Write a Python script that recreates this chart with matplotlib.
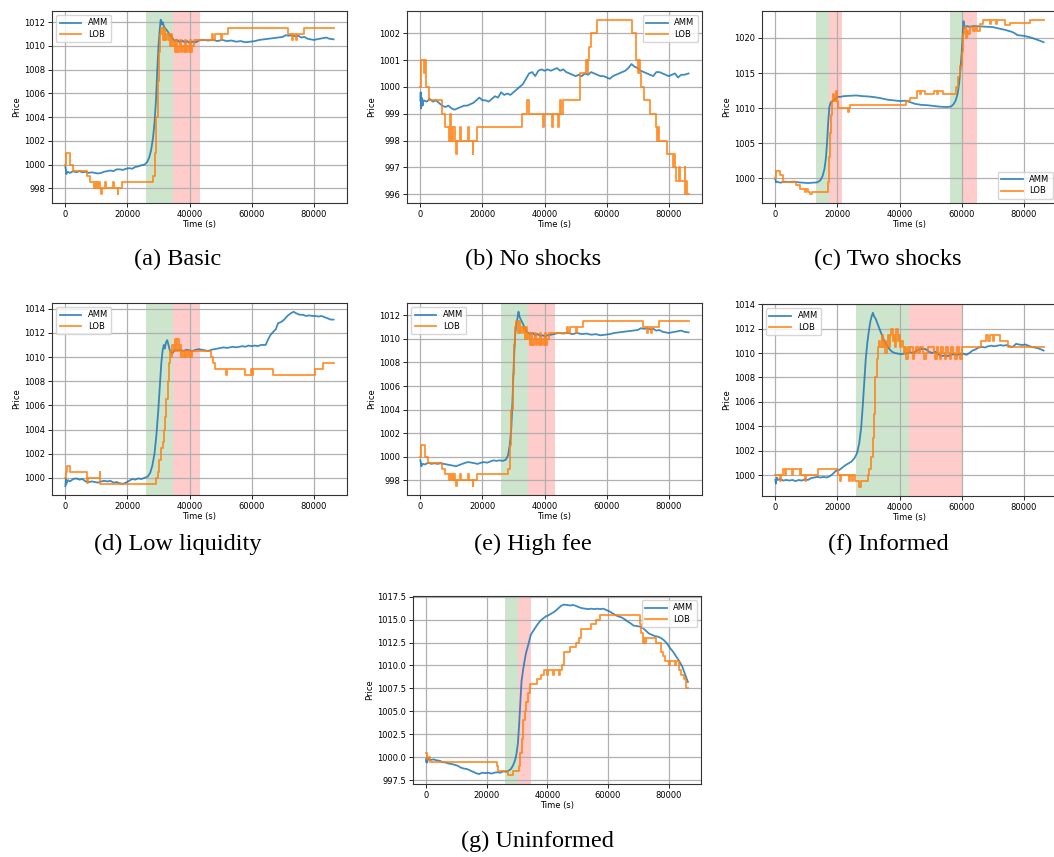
import matplotlib
matplotlib.use("Agg")
import matplotlib.pyplot as plt
from matplotlib.ticker import MultipleLocator

# ---- price paths: (time in s, price) ----
a_amm = [(0, 999.8), (150, 999.6), (300, 999.2), (700, 999.4), (1500, 999.3), (2500, 999.45), (3500, 999.35),
         (4500, 999.45), (5500, 999.35), (6500, 999.4), (7500, 999.3), (8500, 999.35), (9500, 999.3),
         (10500, 999.25), (11500, 999.3), (12500, 999.4), (13500, 999.45), (14500, 999.5), (15500, 999.45),
         (16500, 999.6), (17500, 999.6), (18500, 999.55), (19500, 999.65), (20500, 999.7), (21500, 999.65),
         (22500, 999.8), (23500, 999.85), (24500, 999.95), (25500, 1000.0), (26300, 1000.2), (27000, 1000.6),
         (27600, 1001.2), (28200, 1002.2), (28700, 1003.5), (29200, 1005.5), (29600, 1008.0), (30000, 1010.0),
         (30400, 1011.4), (30700, 1012.2), (31000, 1011.8), (31300, 1012.0), (31800, 1011.6), (32400, 1011.4),
         (33000, 1011.2), (33600, 1010.9), (34200, 1010.8), (34800, 1010.5), (35400, 1010.4), (36000, 1010.5),
         (36800, 1010.3), (37600, 1010.45), (38400, 1010.3), (39200, 1010.4), (40000, 1010.25), (41000, 1010.35),
         (42000, 1010.3), (43000, 1010.45), (44500, 1010.5), (46000, 1010.45), (47500, 1010.5), (49000, 1010.4),
         (50500, 1010.5), (52000, 1010.4), (53500, 1010.45), (55000, 1010.35), (56500, 1010.4), (58000, 1010.3),
         (59500, 1010.35), (61000, 1010.4), (62500, 1010.5), (64000, 1010.55), (65500, 1010.6), (67000, 1010.65),
         (68500, 1010.7), (70000, 1010.75), (71000, 1010.9), (72000, 1010.85), (73000, 1010.9), (74000, 1010.8),
         (75000, 1010.85), (76000, 1010.7), (77000, 1010.75), (78000, 1010.6), (79000, 1010.55), (80000, 1010.5),
         (81000, 1010.55), (82000, 1010.6), (83000, 1010.65), (84000, 1010.7), (85000, 1010.6), (86400, 1010.55)]
a_lob = [(0, 1000.0), (100, 1001.0), (1600, 1000.0), (2300, 999.5), (6800, 999.0), (8000, 998.5), (9200, 998.0),
         (9500, 998.5), (9800, 998.0), (10100, 998.5), (10400, 998.0), (10700, 998.5), (11100, 998.0),
         (11500, 997.5), (11800, 998.0), (12800, 998.5), (13100, 998.0), (15200, 998.5), (15500, 998.0),
         (16800, 997.5), (17100, 998.0), (18300, 998.5), (28300, 999.0), (28800, 1001.0), (29300, 1004.0),
         (29700, 1007.0), (30100, 1009.5), (30500, 1011.0), (30900, 1011.5), (31300, 1010.5), (31700, 1011.5),
         (32100, 1010.5), (32500, 1011.0), (32900, 1010.5), (33300, 1011.0), (33700, 1010.0), (34100, 1011.0),
         (34500, 1010.0), (34900, 1010.5), (35300, 1009.5), (35700, 1010.5), (36100, 1009.5), (36500, 1010.0),
         (36900, 1010.5), (37300, 1009.5), (37700, 1010.0), (38100, 1009.5), (38500, 1010.5), (38900, 1009.5),
         (39300, 1010.0), (39700, 1009.5), (40100, 1010.5), (40500, 1009.5), (40900, 1010.0), (41300, 1010.5),
         (47300, 1011.0), (47700, 1010.5), (48100, 1011.0), (50200, 1010.5), (50500, 1011.0), (52300, 1011.5),
         (71600, 1011.0), (72900, 1010.5), (73200, 1011.0), (74300, 1010.5), (74600, 1011.0), (77000, 1011.5),
         (86400, 1011.5)]

b_amm = [(0, 999.5), (100, 999.8), (200, 999.2), (400, 999.6), (700, 999.3), (1000, 999.5), (2000, 999.45),
         (3000, 999.55), (4000, 999.45), (5000, 999.5), (6000, 999.4), (7000, 999.3), (8000, 999.25), (9000, 999.3),
         (10000, 999.2), (11000, 999.15), (12000, 999.2), (13000, 999.25), (14000, 999.3), (15000, 999.3),
         (16000, 999.35), (17000, 999.4), (18000, 999.5), (19000, 999.6), (20000, 999.5), (21000, 999.5),
         (22000, 999.45), (23000, 999.55), (24000, 999.65), (25000, 999.6), (26000, 999.8), (27000, 999.7),
         (28000, 999.75), (29000, 999.7), (30000, 999.8), (31000, 999.9), (32000, 1000.0), (33000, 1000.1),
         (34000, 1000.3), (35000, 1000.5), (36000, 1000.55), (37000, 1000.4), (38000, 1000.6), (39000, 1000.65),
         (40000, 1000.6), (41000, 1000.65), (42000, 1000.6), (43000, 1000.65), (44000, 1000.7), (45000, 1000.6),
         (46000, 1000.65), (47000, 1000.55), (48000, 1000.5), (49000, 1000.45), (50000, 1000.4), (51000, 1000.45),
         (52000, 1000.4), (53000, 1000.5), (54000, 1000.45), (55000, 1000.55), (56000, 1000.5), (57000, 1000.45),
         (58000, 1000.4), (59000, 1000.4), (60000, 1000.35), (61000, 1000.3), (62000, 1000.4), (63000, 1000.45),
         (64000, 1000.5), (65000, 1000.55), (66000, 1000.6), (67000, 1000.7), (68000, 1000.85), (69000, 1000.75),
         (70000, 1000.7), (71000, 1000.6), (72000, 1000.55), (73000, 1000.5), (74000, 1000.45), (75000, 1000.4),
         (76000, 1000.55), (77000, 1000.55), (78000, 1000.5), (79000, 1000.45), (80000, 1000.4), (81000, 1000.45),
         (82000, 1000.5), (83000, 1000.35), (84000, 1000.45), (85000, 1000.45), (86400, 1000.5)]
b_lob = [(0, 1000.0), (100, 1001.0), (1200, 1000.5), (1400, 1001.0), (1700, 1000.0), (2900, 999.5), (6900, 999.0),
         (8000, 998.5), (9100, 998.0), (9400, 999.0), (9700, 998.0), (10000, 998.5), (10300, 998.0), (10600, 998.5),
         (11000, 998.0), (11400, 997.5), (11700, 998.0), (12800, 998.5), (13100, 998.0), (15200, 998.5),
         (15500, 998.0), (16800, 997.5), (17100, 998.0), (18300, 998.5), (32600, 999.0), (34400, 999.5),
         (34900, 999.0), (39500, 998.5), (39800, 999.0), (42400, 998.5), (42700, 999.0), (44400, 998.5),
         (44700, 999.0), (44900, 999.5), (45300, 999.0), (46000, 999.5), (51500, 1000.5), (53400, 1001.0),
         (53600, 1000.5), (53900, 1001.0), (54200, 1001.5), (55000, 1002.0), (57000, 1002.5), (68300, 1002.0),
         (69300, 1001.5), (69600, 1001.0), (70000, 1000.5), (70300, 1001.0), (70600, 1000.5), (71100, 1000.0),
         (72000, 999.5), (74000, 999.0), (75800, 998.5), (76300, 998.0), (76600, 998.5), (76900, 998.0),
         (79300, 997.5), (81300, 997.0), (81600, 997.5), (81900, 997.0), (82300, 996.5), (83300, 997.0),
         (83600, 996.5), (85100, 997.0), (85400, 996.0), (85700, 996.5), (86000, 996.0), (86400, 996.0)]

c_amm = [(0, 999.8), (200, 999.4), (600, 999.5), (1500, 999.35), (3000, 999.5), (4500, 999.45), (6000, 999.5),
         (7500, 999.4), (9000, 999.35), (10500, 999.3), (12000, 999.35), (13500, 999.4), (14500, 999.7),
         (15200, 1000.3), (15800, 1001.3), (16300, 1003.0), (16700, 1005.5), (17000, 1008.0), (17400, 1010.2),
         (17800, 1010.8), (18500, 1011.0), (19300, 1011.3), (20000, 1011.6), (21000, 1011.6), (22000, 1011.7),
         (24000, 1011.75), (26000, 1011.8), (28000, 1011.7), (30000, 1011.65), (32000, 1011.55), (34000, 1011.4),
         (36000, 1011.2), (38000, 1011.1), (40000, 1011.0), (42000, 1011.05), (43000, 1010.9), (45000, 1010.6),
         (47000, 1010.45), (49000, 1010.4), (51000, 1010.3), (53000, 1010.2), (55000, 1010.15), (56500, 1010.2),
         (57300, 1010.5), (58000, 1011.0), (58700, 1012.0), (59200, 1013.5), (59700, 1016.0), (60100, 1018.5),
         (60400, 1021.0), (60600, 1022.4), (60900, 1021.4), (61500, 1021.7), (62500, 1021.6), (64000, 1021.7),
         (66000, 1021.65), (68000, 1021.6), (70000, 1021.55), (72000, 1021.35), (74000, 1021.15), (76000, 1020.9),
         (77000, 1020.7), (78000, 1020.4), (80000, 1020.3), (82000, 1020.1), (84000, 1019.8), (86400, 1019.4)]
c_lob = [(0, 1000.0), (100, 1001.0), (1500, 1000.5), (2300, 999.5), (6500, 999.0), (8000, 998.5), (9500, 998.0),
         (10000, 998.5), (10500, 998.0), (11300, 997.7), (11700, 998.0), (16800, 999.5), (17200, 1003.0),
         (17600, 1006.5), (18000, 1009.0), (18300, 1011.0), (18700, 1012.0), (19000, 1011.0), (19400, 1012.5),
         (19700, 1011.0), (20100, 1010.0), (23400, 1009.5), (23700, 1010.0), (24000, 1010.5), (42000, 1011.0),
         (43500, 1011.5), (45500, 1012.5), (46500, 1012.0), (47000, 1012.5), (48200, 1012.0), (51000, 1012.5),
         (52000, 1012.0), (52500, 1012.5), (54000, 1012.0), (58300, 1013.0), (58900, 1014.5), (59500, 1016.0),
         (60000, 1018.0), (60400, 1020.5), (60800, 1021.5), (61300, 1020.0), (61700, 1021.0), (62200, 1020.5),
         (62800, 1021.5), (63500, 1021.0), (64300, 1021.5), (65000, 1021.0), (66000, 1022.0), (67000, 1022.5),
         (69000, 1022.0), (69500, 1022.5), (71000, 1022.0), (71500, 1022.5), (74000, 1021.8), (75500, 1022.2),
         (82000, 1022.6), (86400, 1022.6)]

d_amm = [(0, 999.3), (150, 999.9), (300, 999.5), (800, 999.8), (1500, 999.7), (2500, 999.9), (3500, 999.95),
         (4500, 999.85), (5500, 999.9), (6500, 999.7), (7500, 999.65), (8500, 999.7), (9500, 999.65),
         (10500, 999.6), (11500, 999.7), (12500, 999.75), (13500, 999.7), (14500, 999.75), (15500, 999.6),
         (16500, 999.65), (17500, 999.55), (18500, 999.5), (19500, 999.6), (20500, 999.75), (21500, 999.9),
         (22500, 999.85), (23500, 999.95), (24500, 999.9), (25500, 1000.0), (26500, 1000.1), (27300, 1000.4),
         (28000, 1001.0), (28700, 1002.0), (29300, 1003.5), (29900, 1005.5), (30400, 1007.5), (30900, 1009.5),
         (31300, 1010.5), (31700, 1011.0), (32000, 1010.7), (32400, 1011.2), (32800, 1011.4), (33200, 1011.0),
         (33600, 1010.6), (34000, 1010.4), (34500, 1010.3), (35200, 1010.6), (36000, 1010.55), (37000, 1010.6),
         (38000, 1010.5), (39000, 1010.6), (40000, 1010.55), (41000, 1010.5), (42000, 1010.6), (43000, 1010.65),
         (44000, 1010.6), (45000, 1010.55), (46000, 1010.5), (47000, 1010.6), (48000, 1010.65), (49000, 1010.7),
         (50000, 1010.75), (51000, 1010.8), (52000, 1010.75), (53000, 1010.8), (54000, 1010.85), (55000, 1010.8),
         (56000, 1010.85), (57000, 1010.9), (58000, 1010.85), (59000, 1010.95), (60000, 1010.9), (61000, 1010.95),
         (62000, 1010.9), (63000, 1011.0), (64500, 1011.0), (65200, 1011.4), (66000, 1011.8), (67000, 1012.1),
         (67800, 1012.3), (68500, 1012.8), (69500, 1012.9), (70500, 1013.1), (71500, 1013.4), (72500, 1013.6),
         (73500, 1013.75), (74500, 1013.6), (75500, 1013.5), (76500, 1013.5), (77500, 1013.4), (78500, 1013.45),
         (79500, 1013.4), (80500, 1013.4), (81500, 1013.35), (82500, 1013.4), (83500, 1013.3), (84500, 1013.2),
         (85500, 1013.1), (86400, 1013.1)]
d_lob = [(0, 1000.0), (200, 1000.5), (500, 1001.0), (1500, 1000.5), (7000, 999.6), (7300, 1000.0), (11000, 1000.5),
         (11200, 999.5), (29300, 1000.0), (29800, 1000.5), (30300, 1001.5), (30800, 1002.5), (31300, 1003.0),
         (31700, 1004.0), (32100, 1005.0), (32500, 1006.5), (32900, 1008.0), (33300, 1009.5), (33700, 1010.5),
         (34100, 1010.0), (34500, 1011.0), (34900, 1010.5), (35300, 1011.5), (35700, 1010.5), (36100, 1011.5),
         (36500, 1010.5), (36900, 1011.0), (37300, 1010.0), (37700, 1010.5), (38100, 1010.0), (38500, 1010.5),
         (38900, 1010.0), (39300, 1010.5), (39700, 1010.0), (40100, 1010.5), (40500, 1010.0), (40900, 1010.5),
         (47000, 1010.0), (47700, 1009.5), (48300, 1009.0), (51800, 1008.5), (52200, 1009.0), (57800, 1008.5),
         (59700, 1009.0), (60000, 1008.5), (60300, 1009.0), (67000, 1008.5), (80500, 1009.0), (83000, 1009.5),
         (86400, 1009.5)]

e_amm = [(0, 999.7), (150, 999.5), (300, 999.2), (700, 999.4), (1500, 999.35), (2500, 999.5), (3500, 999.4),
         (4500, 999.45), (5500, 999.4), (6500, 999.45), (7500, 999.4), (8500, 999.35), (9500, 999.3),
         (10500, 999.25), (11500, 999.2), (12500, 999.3), (13500, 999.4), (14500, 999.5), (15500, 999.55),
         (16500, 999.5), (17500, 999.45), (18500, 999.4), (19500, 999.5), (20500, 999.55), (21500, 999.5),
         (22500, 999.6), (23500, 999.7), (24500, 999.65), (25500, 999.7), (26500, 999.65), (27500, 999.75),
         (28200, 1000.1), (28800, 1001.0), (29300, 1002.5), (29700, 1005.0), (30100, 1008.0), (30500, 1010.3),
         (30900, 1011.2), (31300, 1011.8), (31600, 1012.3), (31900, 1011.9), (32400, 1011.6), (33000, 1011.3),
         (33600, 1010.9), (34200, 1010.6), (34800, 1010.5), (35500, 1010.4), (36200, 1010.5), (37000, 1010.3),
         (37800, 1010.4), (38600, 1010.25), (39400, 1010.3), (40200, 1010.2), (41000, 1010.3), (42000, 1010.35),
         (43000, 1010.4), (44500, 1010.5), (46000, 1010.45), (47500, 1010.5), (49000, 1010.4), (50500, 1010.5),
         (52000, 1010.4), (53500, 1010.45), (55000, 1010.35), (56500, 1010.4), (58000, 1010.3), (59500, 1010.35),
         (61000, 1010.4), (62500, 1010.5), (64000, 1010.55), (65500, 1010.6), (67000, 1010.65), (68500, 1010.7),
         (70000, 1010.75), (71000, 1010.9), (72000, 1010.85), (73000, 1010.9), (74000, 1010.8), (75000, 1010.85),
         (76000, 1010.7), (77000, 1010.75), (78000, 1010.6), (79000, 1010.55), (80000, 1010.5), (81000, 1010.55),
         (82000, 1010.6), (83000, 1010.65), (84000, 1010.7), (85000, 1010.6), (86400, 1010.55)]
# the order book does not see the AMM fee, same path as the basic run
e_lob = a_lob

f_amm = [(0, 999.6), (150, 999.3), (400, 999.8), (800, 999.6), (1500, 999.7), (2500, 999.55), (3500, 999.6),
         (4500, 999.55), (5500, 999.6), (6500, 999.5), (7500, 999.6), (8500, 999.55), (9500, 999.65),
         (10500, 999.6), (11500, 999.75), (12500, 999.8), (13500, 999.85), (14500, 999.8), (15500, 999.85),
         (16500, 999.8), (17500, 999.9), (18500, 1000.1), (19500, 1000.35), (20500, 1000.4), (21500, 1000.6),
         (22500, 1000.8), (23500, 1000.95), (24500, 1001.1), (25500, 1001.4), (26300, 1001.8), (27000, 1002.6),
         (27600, 1003.8), (28100, 1005.5), (28600, 1007.5), (29100, 1009.5), (29600, 1010.8), (30100, 1011.8),
         (30600, 1012.6), (31000, 1013.0), (31400, 1013.3), (31800, 1013.0), (32300, 1012.8), (32900, 1012.4),
         (33500, 1012.0), (34100, 1011.6), (34700, 1011.2), (35300, 1010.9), (36000, 1010.6), (36800, 1010.3),
         (37600, 1010.1), (38500, 1010.0), (39500, 1009.95), (40500, 1009.9), (41500, 1009.95), (42500, 1010.0),
         (43500, 1010.05), (44500, 1010.0), (45500, 1010.2), (46500, 1010.3), (47500, 1010.35), (48500, 1010.3),
         (49500, 1010.1), (50500, 1010.0), (51500, 1010.1), (52500, 1009.9), (53500, 1009.75), (54500, 1009.8),
         (55500, 1009.75), (56500, 1009.85), (57500, 1009.9), (58500, 1009.85), (59500, 1009.9), (60500, 1009.95),
         (61500, 1009.85), (62500, 1010.0), (63500, 1010.2), (64500, 1010.3), (65500, 1010.45), (66500, 1010.5),
         (67500, 1010.45), (68500, 1010.55), (69500, 1010.6), (70500, 1010.55), (71500, 1010.6), (72500, 1010.65),
         (73500, 1010.6), (74500, 1010.65), (75500, 1010.55), (76500, 1010.5), (77500, 1010.75), (78500, 1010.7),
         (79500, 1010.65), (80500, 1010.7), (81500, 1010.6), (82500, 1010.5), (83500, 1010.45), (84500, 1010.4),
         (85500, 1010.3), (86400, 1010.2)]
f_lob = [(0, 1000.0), (1500, 999.5), (1800, 1000.0), (2600, 1000.5), (3100, 1000.0), (3400, 1000.5), (5500, 1000.0),
         (5800, 1000.5), (7800, 1000.0), (8100, 1000.5), (8400, 1000.0), (9400, 999.5), (9700, 1000.0),
         (13800, 1000.5), (20100, 1000.0), (20800, 999.5), (21100, 1000.0), (23800, 999.5), (24100, 1000.0),
         (24600, 999.5), (24900, 1000.0), (25600, 999.5), (27000, 999.0), (27500, 999.5), (29700, 1000.0),
         (30300, 1000.5), (30900, 1001.5), (31400, 1003.0), (31800, 1005.0), (32200, 1008.0), (32600, 1009.5),
         (33000, 1010.5), (33400, 1011.0), (33800, 1010.5), (34200, 1011.5), (34600, 1010.5), (35000, 1011.0),
         (35400, 1010.0), (35800, 1011.0), (36200, 1011.5), (36600, 1010.5), (37000, 1011.5), (37400, 1012.0),
         (37800, 1011.0), (38200, 1011.5), (38600, 1010.5), (39000, 1012.0), (39400, 1011.0), (39800, 1011.5),
         (40200, 1010.5), (40600, 1011.0), (41000, 1010.5), (41400, 1010.0), (41800, 1010.5), (42200, 1009.5),
         (42600, 1010.5), (43000, 1010.0), (43400, 1010.5), (44200, 1009.5), (44600, 1010.0), (45300, 1010.5),
         (46000, 1010.0), (46500, 1010.5), (47500, 1010.0), (48000, 1009.5), (48400, 1010.0), (49000, 1010.5),
         (51000, 1010.0), (51500, 1009.5), (51900, 1010.5), (52500, 1010.0), (53000, 1009.5), (53400, 1010.5),
         (54000, 1010.0), (54600, 1009.5), (55000, 1010.5), (55600, 1010.0), (56200, 1009.5), (56600, 1010.5),
         (57200, 1010.0), (58000, 1009.5), (58400, 1010.5), (59000, 1010.0), (59500, 1009.5), (60000, 1010.5),
         (66200, 1011.0), (68000, 1011.5), (68500, 1011.0), (69000, 1011.5), (70000, 1011.0), (70400, 1011.5),
         (72500, 1011.0), (75000, 1010.5), (86400, 1010.5)]

g_amm = [(0, 999.5), (150, 999.9), (300, 999.4), (700, 999.8), (1500, 999.7), (2500, 999.75), (3500, 999.65),
         (4500, 999.6), (5500, 999.45), (6500, 999.4), (7500, 999.3), (8500, 999.25), (9500, 999.15),
         (10500, 999.05), (11500, 998.85), (12500, 998.75), (13500, 998.7), (14500, 998.55), (15500, 998.4),
         (16500, 998.25), (17500, 998.15), (18500, 998.3), (19500, 998.25), (20500, 998.3), (21500, 998.2),
         (22500, 998.3), (23500, 998.35), (24500, 998.3), (25500, 998.45), (26500, 998.4), (27300, 998.55),
         (28000, 998.7), (28700, 999.1), (29300, 999.6), (29800, 1000.3), (30300, 1001.5), (30700, 1003.5),
         (31100, 1006.0), (31500, 1008.3), (32000, 1009.5), (32500, 1010.5), (33000, 1011.4), (33500, 1012.0),
         (34000, 1012.6), (34500, 1013.3), (35000, 1013.6), (35800, 1014.0), (36600, 1014.4), (37500, 1014.8),
         (38500, 1015.1), (39500, 1015.35), (40500, 1015.5), (41500, 1015.7), (42500, 1015.9), (43500, 1016.2),
         (44500, 1016.5), (45500, 1016.65), (46500, 1016.6), (47500, 1016.55), (48500, 1016.6), (49500, 1016.5),
         (50500, 1016.35), (51500, 1016.25), (52500, 1016.2), (53500, 1016.15), (54500, 1016.2), (55500, 1016.15),
         (56500, 1016.2), (57500, 1016.15), (58500, 1016.2), (59500, 1016.05), (60500, 1015.9), (61500, 1015.7),
         (62500, 1015.5), (63500, 1015.35), (64500, 1015.25), (65500, 1015.05), (66500, 1014.8), (67500, 1014.6),
         (68500, 1014.35), (69500, 1014.3), (70500, 1014.25), (71500, 1014.1), (72500, 1013.8), (73500, 1013.5),
         (74500, 1013.35), (75500, 1013.2), (76500, 1013.15), (77500, 1013.0), (78500, 1012.75), (79500, 1012.4),
         (80500, 1011.9), (81500, 1011.5), (82500, 1011.0), (83500, 1010.5), (84500, 1009.9), (85500, 1009.0),
         (86400, 1008.2)]
g_lob = [(0, 1000.5), (200, 999.8), (500, 1000.0), (1200, 999.5), (23500, 999.0), (23800, 998.5), (27000, 998.0),
         (28800, 998.5), (30500, 999.0), (31000, 1000.5), (31500, 1002.0), (32000, 1004.0), (32500, 1005.0),
         (33000, 1006.0), (33500, 1007.0), (34300, 1008.0), (36500, 1008.5), (38000, 1009.0), (39000, 1009.5),
         (40000, 1009.0), (40300, 1009.5), (42000, 1009.0), (42300, 1009.5), (43800, 1009.0), (44100, 1009.5),
         (45000, 1010.0), (45600, 1011.5), (47500, 1012.0), (49500, 1012.5), (50400, 1013.0), (51000, 1014.0),
         (54500, 1014.5), (56000, 1015.0), (57500, 1015.5), (70500, 1014.5), (70900, 1013.5), (71500, 1012.5),
         (71800, 1013.0), (72200, 1012.5), (72600, 1013.0), (76000, 1012.5), (77500, 1011.5), (78300, 1011.0),
         (79000, 1010.5), (80000, 1010.0), (80500, 1010.5), (82000, 1010.0), (82500, 1010.5), (83300, 1009.5),
         (84000, 1009.0), (85000, 1008.5), (85700, 1007.5), (86400, 1007.5)]

# shock windows: (start, switch, end) -> green then red
a_shocks = [(25920, 34560, 43200)]
b_shocks = []
c_shocks = [(12960, 17280, 21600), (56160, 60480, 64800)]
d_shocks = [(25920, 34560, 43200)]
e_shocks = [(25920, 34560, 43200)]
f_shocks = [(25920, 43200, 60480)]
g_shocks = [(25920, 30240, 34560)]

captions = ["(a) Basic", "(b) No shocks", "(c) Two shocks", "(d) Low liquidity",
            "(e) High fee", "(f) Informed", "(g) Uninformed"]
y_steps = [2, 1, 5, 2, 2, 2, 2.5]
legend_locs = ["upper left", "upper right", "lower right", "upper left",
               "upper left", "upper left", "upper right"]

W, H = 1054, 857
plt.rcParams["font.family"] = "DejaVu Sans"
plt.rcParams["font.size"] = 6

fig = plt.figure(figsize=(W / 100, H / 100), dpi=100)

# axes boxes in pixels: left, top, width, height; caption centre x, y
boxes = [(52, 11, 295, 192), (407, 11, 295, 192), (762, 11, 295, 192),
         (52, 303, 295, 192), (407, 303, 295, 192), (762, 304, 295, 192),
         (413, 596, 288, 188)]
cap_xy = [(178, 259), (533, 259), (888, 259), (178, 544), (533, 544), (888, 544), (537, 841)]

runs = [(a_amm, a_lob, a_shocks), (b_amm, b_lob, b_shocks), (c_amm, c_lob, c_shocks),
        (d_amm, d_lob, d_shocks), (e_amm, e_lob, e_shocks), (f_amm, f_lob, f_shocks),
        (g_amm, g_lob, g_shocks)]

for i, (amm, lob, shocks) in enumerate(runs):
    l, t, w, h = boxes[i]
    ax = fig.add_axes([l / W, 1 - (t + h) / H, w / W, h / H])
    for s0, s1, s2 in shocks:
        ax.axvspan(s0, s1, color="green", alpha=0.2, lw=0)
        ax.axvspan(s1, s2, color="red", alpha=0.2, lw=0)
    at, ap = zip(*amm)
    lt, lp = zip(*lob)
    ax.plot(at, ap, color="tab:blue", lw=1.3, alpha=0.85, label="AMM")
    ax.plot(lt, lp, color="tab:orange", lw=1.3, alpha=0.85, drawstyle="steps-post", label="LOB")
    ax.yaxis.set_major_locator(MultipleLocator(y_steps[i]))
    ax.xaxis.set_major_locator(MultipleLocator(20000))
    ax.grid(True, color="#b0b0b0", lw=0.9)
    ax.tick_params(labelsize=6, length=3, width=0.6, pad=2)
    for sp in ax.spines.values():
        sp.set_color("#333333")
        sp.set_linewidth(0.8)
    ax.set_xlabel("Time (s)", fontsize=6, labelpad=1)
    ax.set_ylabel("Price", fontsize=6, labelpad=2)
    ax.legend(loc=legend_locs[i], fontsize=6, handlelength=2.6, borderpad=0.4, labelspacing=0.3)
    cx, cy = cap_xy[i]
    fig.text(cx / W, 1 - cy / H, captions[i], ha="center", va="center",
             fontsize=17.5, family="Liberation Serif")

fig.savefig("out.png", dpi=100)
